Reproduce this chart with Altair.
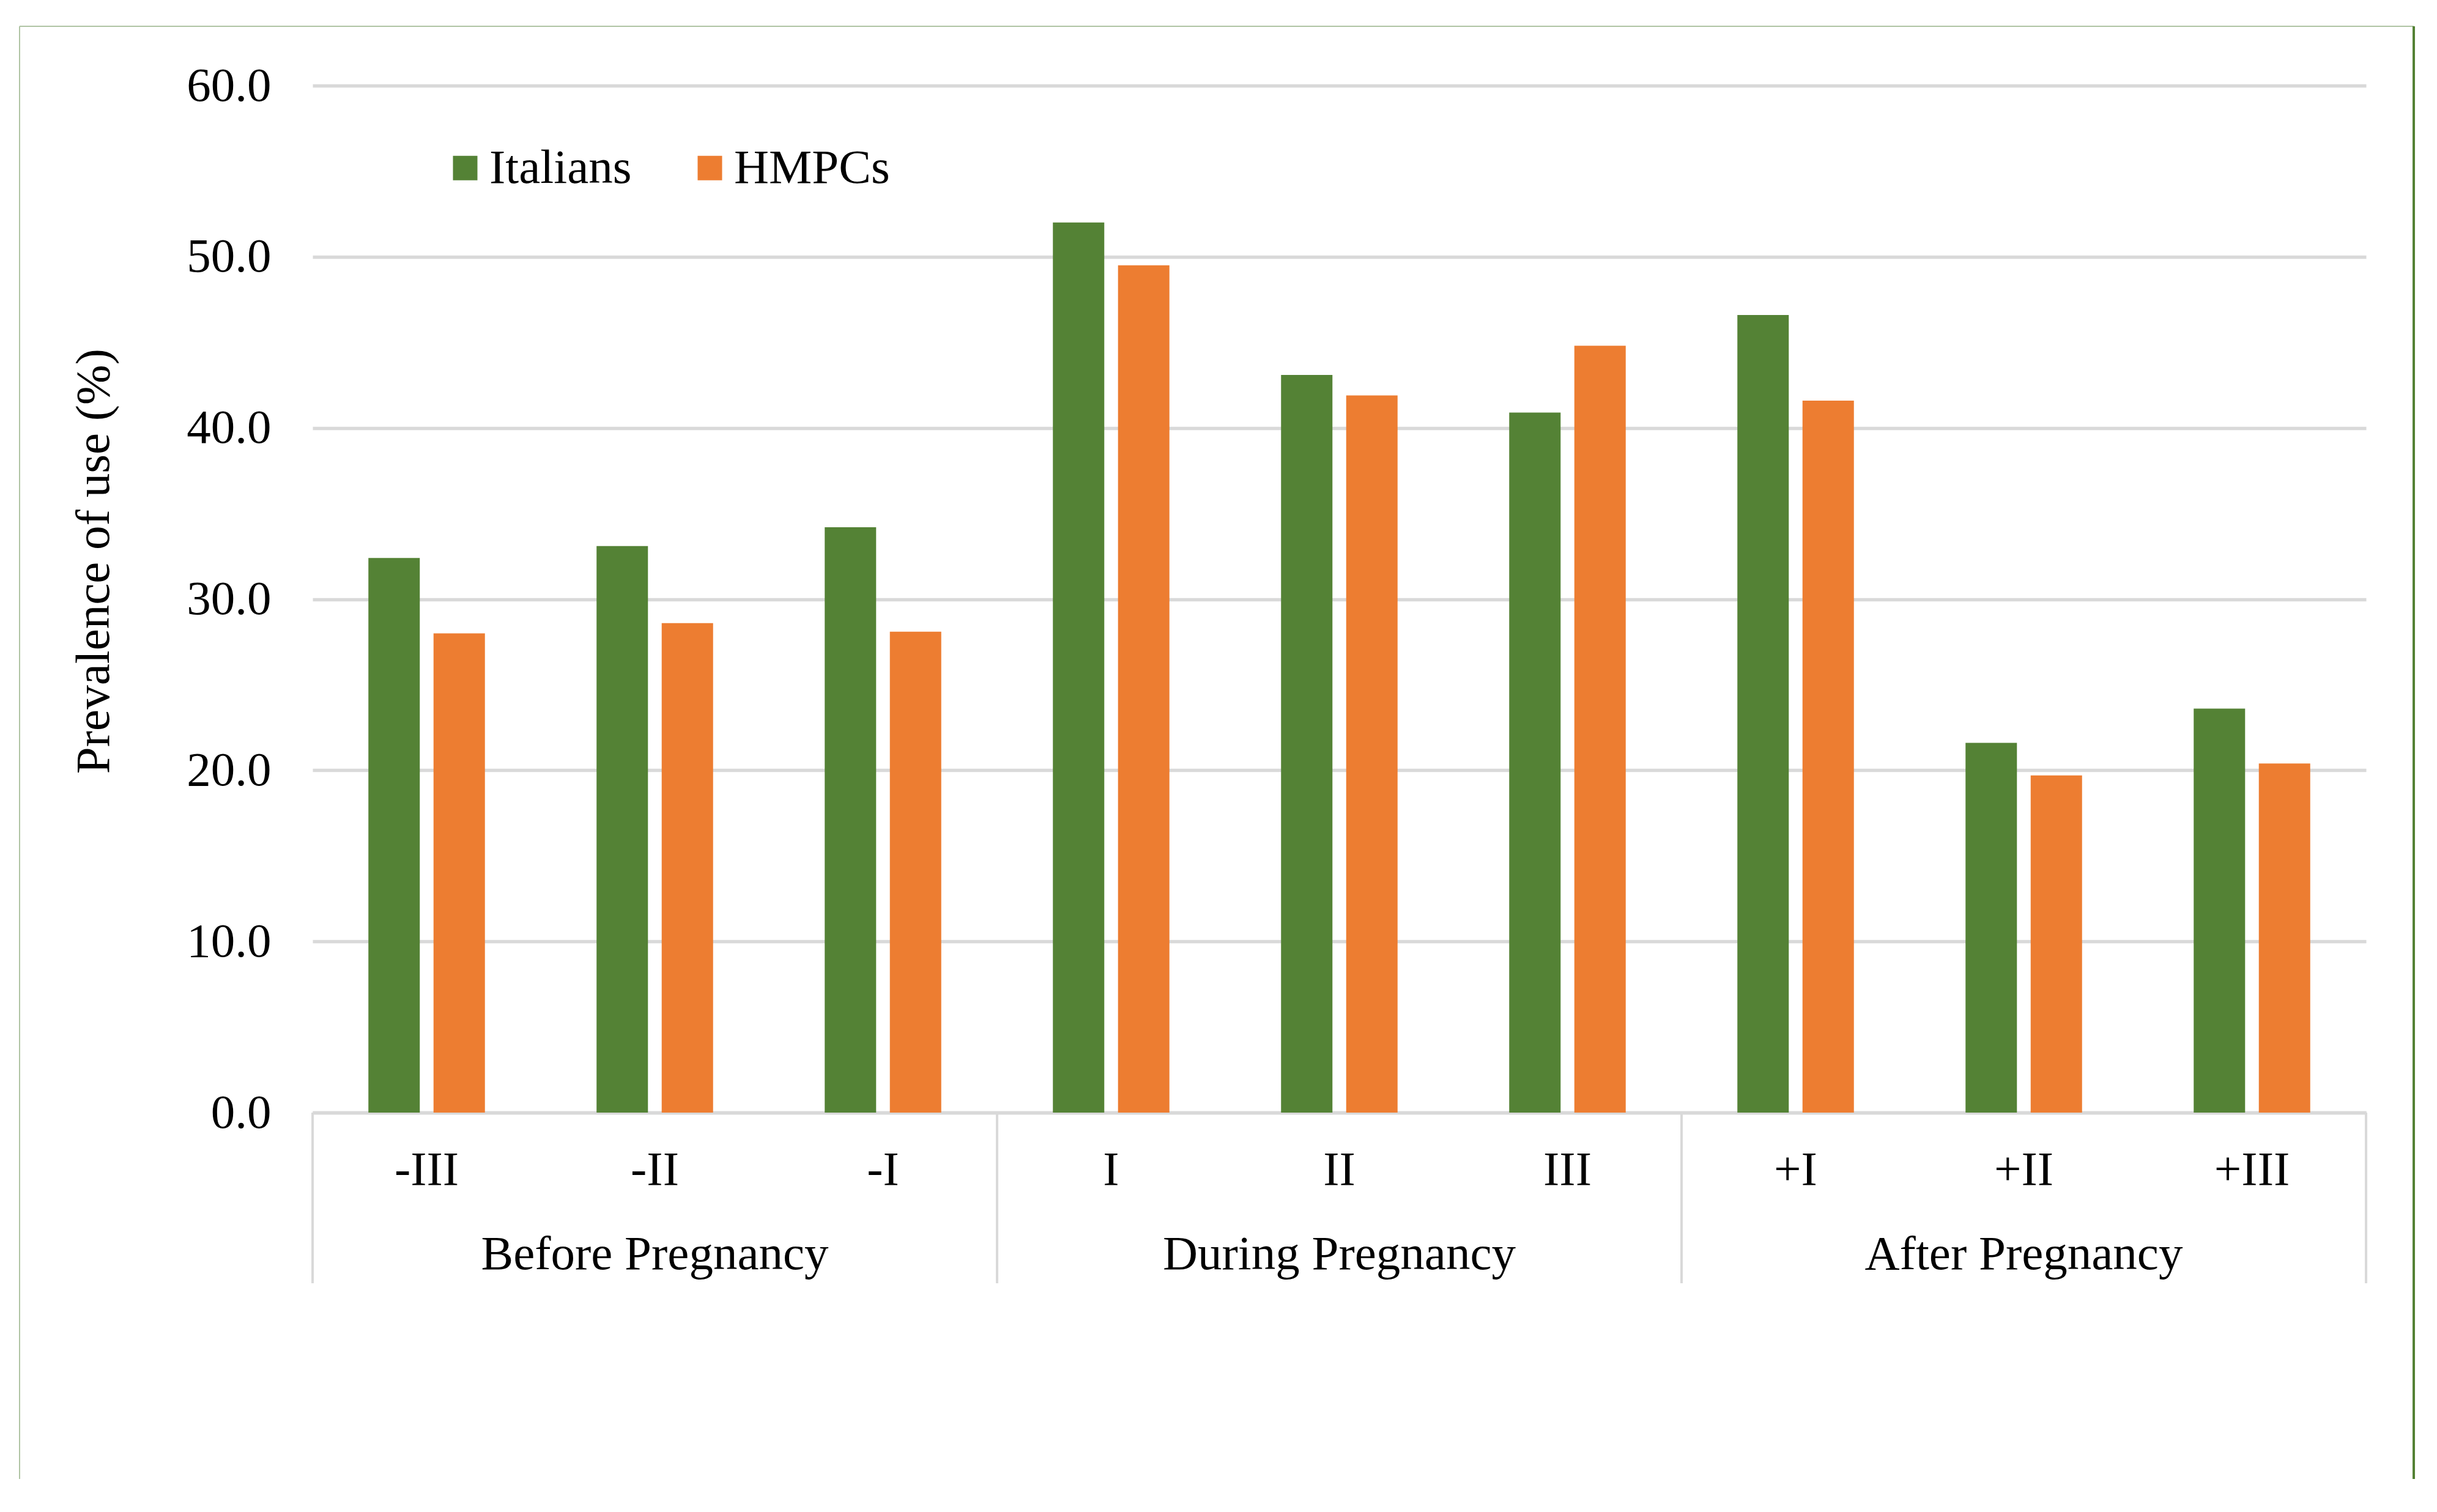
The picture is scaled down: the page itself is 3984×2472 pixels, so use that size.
import altair as alt
import pandas as pd

# ---- data ----
periods = ["-III", "-II", "-I", "I", "II", "III", "+I", "+II", "+III"]
phases = ["Before Pregnancy"] * 3 + ["During Pregnancy"] * 3 + ["After Pregnancy"] * 3
italians = [32.4, 33.1, 34.2, 52.0, 43.1, 40.9, 46.6, 21.6, 23.6]
hmpcs = [28.0, 28.6, 28.1, 49.5, 41.9, 44.8, 41.6, 19.7, 20.4]
series = ["Italians", "HMPCs"]
colors = ["#548235", "#ED7D31"]
y_ticks = [0, 10, 20, 30, 40, 50, 60]

rows = []
for p, a, b in zip(periods, italians, hmpcs):
    rows.append({"period": p, "series": series[0], "value": a})
    rows.append({"period": p, "series": series[1], "value": b})
df = pd.DataFrame(rows)

phase_names = list(dict.fromkeys(phases))
mids, starts = [], []
for ph in phase_names:
    idx = [i for i, x in enumerate(phases) if x == ph]
    mids.append(periods[idx[len(idx) // 2]])
    starts.append(periods[idx[0]])
phase_df = pd.DataFrame({"phase": phase_names, "mid": mids})
start_df = pd.DataFrame({"period": starts})
end_df = pd.DataFrame({"period": [periods[-1]]})
one = pd.DataFrame({"k": [0]})

# ---- styling ----
W, H = 3357, 1679
FONT = "Liberation Serif"
FS = 79
GRID = "#d9d9d9"

xscale = alt.Scale(domain=periods, paddingInner=0, paddingOuter=0)
xaxis = alt.Axis(title=None, labelAngle=0, ticks=False, tickSize=0, labelPadding=55,
                 domainColor=GRID, domainWidth=5.5, labelFont=FONT, labelFontSize=FS,
                 labelColor="black", grid=False, labelLimit=1000)

bars = alt.Chart(df).mark_bar().encode(
    x=alt.X("period:N", sort=periods, scale=xscale, axis=xaxis),
    xOffset=alt.XOffset("series:N", sort=series,
                        scale=alt.Scale(domain=series, paddingInner=0.211, paddingOuter=0.857)),
    y=alt.Y("value:Q", scale=alt.Scale(domain=[0, 60], nice=False),
            axis=alt.Axis(values=y_ticks, format=".1f", title="Prevalence of use (%)",
                          titleFont=FONT, titleFontSize=FS, titleFontWeight="normal",
                          titleColor="black", titleX=-334, titleY=777,
                          titleBaseline="alphabetic", labelFont=FONT, labelFontSize=FS,
                          labelColor="black", labelPadding=68, ticks=False, tickSize=0,
                          domain=False, grid=True, gridColor=GRID, gridWidth=5.5)),
    color=alt.Color("series:N", sort=series, scale=alt.Scale(domain=series, range=colors),
                    legend=alt.Legend(title=None, orient="none", legendX=210, legendY=95,
                                      direction="horizontal", symbolType="square",
                                      symbolSize=1600, symbolStrokeWidth=0,
                                      labelFont=FONT, labelFontSize=FS, labelColor="black",
                                      labelOffset=0, columnPadding=88, padding=0,
                                      labelLimit=1000)),
)

sep_start = alt.Chart(start_df).mark_rule(color=GRID, strokeWidth=4).encode(
    x=alt.X("period:N", sort=periods, scale=xscale, axis=xaxis, bandPosition=0),
    y=alt.value(H), y2=alt.value(H + 279),
)
sep_end = alt.Chart(end_df).mark_rule(color=GRID, strokeWidth=4).encode(
    x=alt.X("period:N", sort=periods, scale=xscale, axis=xaxis, bandPosition=1),
    y=alt.value(H), y2=alt.value(H + 279),
)

group_labels = alt.Chart(phase_df).mark_text(
    font=FONT, fontSize=FS, baseline="alphabetic", align="center", color="black"
).encode(
    x=alt.X("mid:N", sort=periods, scale=xscale, axis=xaxis),
    y=alt.value(1935),
    text="phase:N",
)

frame_top = alt.Chart(one).mark_rule(color="#b0c4a4", strokeWidth=2).encode(
    x=alt.value(-479), x2=alt.value(3435), y=alt.value(-97))
frame_left = alt.Chart(one).mark_rule(color="#b0c4a4", strokeWidth=2).encode(
    x=alt.value(-479), y=alt.value(-97), y2=alt.value(2278))
frame_right = alt.Chart(one).mark_rule(color="#548235", strokeWidth=4).encode(
    x=alt.value(3435), y=alt.value(-97), y2=alt.value(2278))

chart = alt.layer(
    frame_top, frame_left, frame_right, bars, sep_start, sep_end, group_labels
).properties(
    width=W, height=H,
    autosize=alt.AutoSizeParams(type="none"),
    padding={"left": 503, "top": 132, "right": 100, "bottom": 640},
    background="white",
).configure_view(stroke=None)

chart.save("out.html", embed_options={"renderer": "svg", "actions": False})
